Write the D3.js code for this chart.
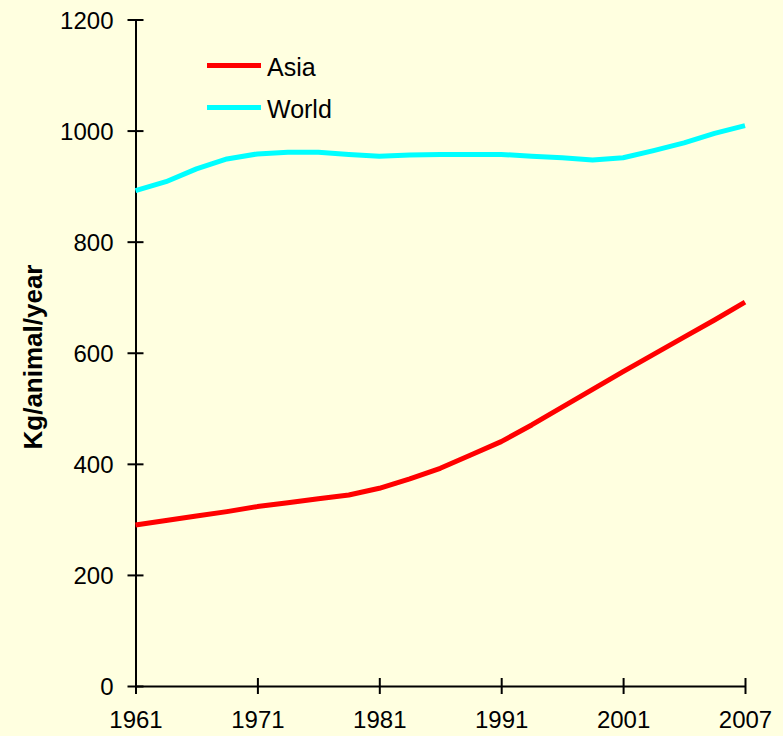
<!DOCTYPE html>
<html>
<head>
<meta charset="utf-8">
<script src="https://cdn.jsdelivr.net/npm/d3@7"></script>
<style>
  html, body { margin: 0; padding: 0; background: #FFFFE0; }
  svg { display: block; font-family: "Liberation Sans", Arial, sans-serif; }
</style>
</head>
<body>
<svg id="chart" width="783" height="736"></svg>
<script>
// Category axis: 21 evenly spaced points, labelled every fourth one
const tickLabels = ["1961", "1971", "1981", "1991", "2001", "2007"];
const tickIndex = [0, 4, 8, 12, 16, 20];

// Kg/animal/year
const asia = [290, 298, 306, 314, 323, 330, 337, 344, 356, 373, 392, 416, 440,
              470, 502, 534, 566, 597, 628, 659, 691];
const world = [892, 908, 931, 949, 958, 961, 961, 957, 954, 956, 957, 957, 957,
               954, 951, 947, 951, 964, 978, 995, 1009];

const yTicks = [0, 200, 400, 600, 800, 1000, 1200];

const series = [
  { name: "Asia", values: asia, color: "#FF0000" },
  { name: "World", values: world, color: "#00FFFF" }
];

const svg = d3.select("#chart");
const plot = { left: 135.5, right: 745, top: 19.5, bottom: 686 };

const x = d3.scaleLinear().domain([0, asia.length - 1]).range([plot.left, plot.right]);
const y = d3.scaleLinear().domain([0, 1200]).range([plot.bottom, plot.top]);

// Y axis with ticks crossing the axis line
const yAxis = svg.append("g")
  .attr("transform", `translate(${plot.left},0)`)
  .call(d3.axisLeft(y).tickValues(yTicks).tickFormat(d3.format("d"))
    .tickSize(8).tickPadding(14).tickSizeOuter(0));
yAxis.selectAll(".tick line").attr("x2", 8).attr("x1", -8);

// X axis
const xAxis = svg.append("g")
  .attr("transform", `translate(0,${plot.bottom})`)
  .call(d3.axisBottom(x).tickValues(tickIndex)
    .tickFormat((d, i) => tickLabels[i]).tickSize(8).tickPadding(17).tickSizeOuter(0));
xAxis.selectAll(".tick line").attr("y1", -8).attr("y2", 8);

[yAxis, xAxis].forEach(g => {
  g.select(".domain").attr("stroke", "#000").attr("stroke-width", 2);
  g.selectAll(".tick line").attr("stroke", "#000").attr("stroke-width", 2);
  g.selectAll(".tick text").attr("fill", "#000").style("font-size", "24px")
    .style("font-family", "'Liberation Sans', Arial, sans-serif");
});
yAxis.selectAll(".tick text").attr("dy", "0.36em");
xAxis.selectAll(".tick text").attr("dy", "0.71em");

// Axis title
svg.append("text")
  .attr("transform", "translate(42,357) rotate(-90)")
  .attr("text-anchor", "middle")
  .style("font-size", "26px")
  .style("font-weight", "bold")
  .attr("fill", "#000")
  .text("Kg/animal/year");

// Series lines
const line = d3.line().x((d, i) => x(i)).y(d => y(d));
series.forEach(s => {
  svg.append("path")
    .datum(s.values)
    .attr("fill", "none")
    .attr("stroke", s.color)
    .attr("stroke-width", 5)
    .attr("stroke-linejoin", "round")
    .attr("d", line);
});

// Legend
const legend = svg.append("g");
series.forEach((s, i) => {
  const ly = 65.5 + i * 42;
  legend.append("line")
    .attr("x1", 207).attr("x2", 261)
    .attr("y1", ly).attr("y2", ly)
    .attr("stroke", s.color).attr("stroke-width", 5);
  legend.append("text")
    .attr("x", 267).attr("y", ly + 10)
    .style("font-size", "25px")
    .attr("fill", "#000")
    .text(s.name);
});
</script>
</body>
</html>
